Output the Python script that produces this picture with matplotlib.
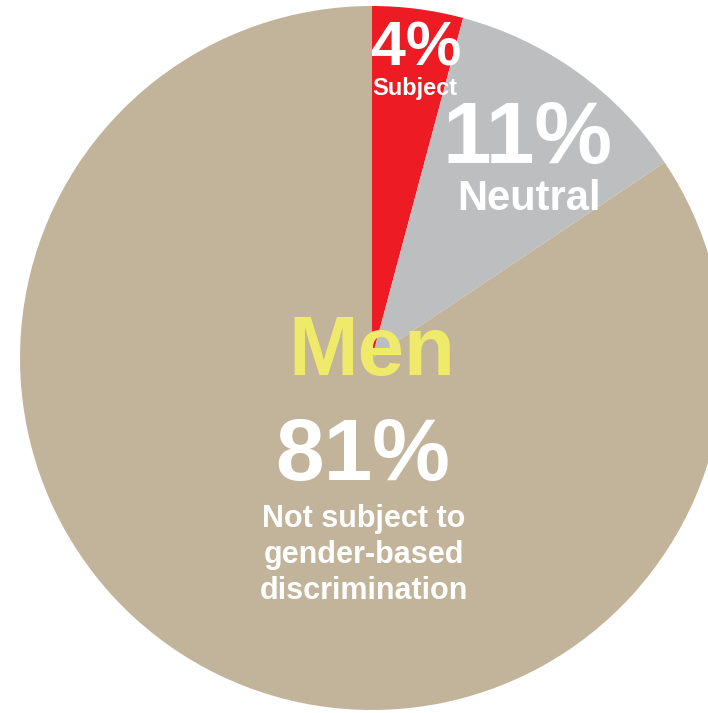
import matplotlib.pyplot as plt

# survey shares for men (read as printed, pie is normalised on the sum)
labels = ["Subject", "Neutral", "Not subject to gender-based discrimination"]
values = [4, 11, 81]
colors = ["#ED1C24", "#BCBEC0", "#C2B49B"]

plt.rcParams['font.family'] = ['Liberation Sans', 'DejaVu Sans']

fig = plt.figure(figsize=(7.08, 7.13), dpi=100)
ax = fig.add_axes([0, 0, 1, 1])

H = 713
ax.pie(values, colors=colors, startangle=90, counterclock=False,
       center=(372, H - 358), radius=352, wedgeprops={'linewidth': 0})
ax.set_xlim(0, 708)
ax.set_ylim(0, H)
ax.set_aspect('auto')
ax.axis('off')

def txt(x, y, s, size, color='white'):
    ax.text(x, H - y, s, fontsize=size, fontweight='bold', color=color,
            ha='center', va='baseline')

txt(416, 65, f"{values[0]}%", 45)
txt(415, 95, labels[0], 17)
txt(528, 163, f"{values[1]}%", 63)
txt(529, 210, labels[1], 30)
txt(372, 375, "Men", 60, color='#EFEA6A')
txt(363, 480, f"{values[2]}%", 63)
txt(364, 527, "Not subject to", 22)
txt(364, 563, "gender-based", 22)
txt(364, 599, "discrimination", 22)

fig.savefig("out.png", dpi=100)
